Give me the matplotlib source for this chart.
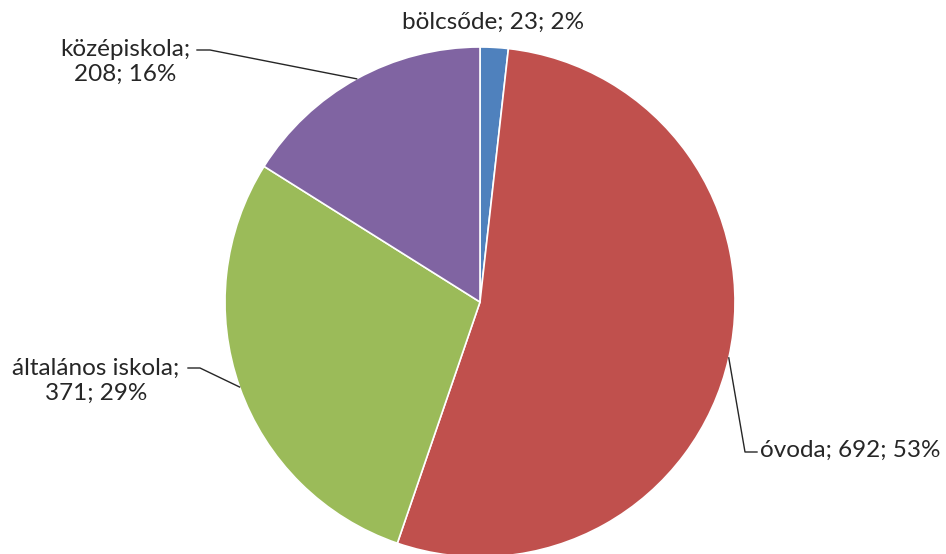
import numpy as np
import matplotlib
matplotlib.use("Agg")
import matplotlib.pyplot as plt

categories = ["bölcsőde", "óvoda", "általános iskola", "középiskola"]
values = [23, 692, 371, 208]
percents = ["2%", "53%", "29%", "16%"]
colors = ["#4F81BD", "#C0504D", "#9BBB59", "#8064A2"]

W, H = 946, 554
fig = plt.figure(figsize=(W / 100, H / 100), dpi=100)
ax = fig.add_axes([0, 0, 1, 1])

cx, cy, r = 480, H - 302, 255
wedges, _ = ax.pie(values, colors=colors, startangle=90, counterclock=False,
                   center=(cx, cy), radius=r, frame=True,
                   wedgeprops=dict(linewidth=1.2, edgecolor="white"))
ax.set_xlim(0, W)
ax.set_ylim(0, H)
ax.set_aspect("equal")
ax.axis("off")

font = dict(family=["Lato", "DejaVu Sans"], fontsize=17.5, color="#262626")

def edge_point(w):
    mid = np.deg2rad((w.theta1 + w.theta2) / 2)
    return cx + r * np.cos(mid), cy + r * np.sin(mid)

def Y(y):
    return H - y

# bölcsőde: label above the slice, no leader
ax.text(493, Y(22), f"{categories[0]}; {values[0]}; {percents[0]}",
        ha="center", va="center", **font)

# óvoda
ex, ey = edge_point(wedges[1])
ax.plot([ex, 745, 757], [ey, Y(452), Y(452)], color="#262626", lw=1)
ax.text(760, Y(450), f"{categories[1]}; {values[1]}; {percents[1]}",
        ha="left", va="center", **font)

# általános iskola
ex, ey = edge_point(wedges[2])
ax.plot([ex, 200, 188], [ey, Y(368), Y(368)], color="#262626", lw=1)
ax.text(96, Y(381), f"{categories[2]};\n{values[2]}; {percents[2]}",
        ha="center", va="center", linespacing=1.25, **font)

# középiskola
ex, ey = edge_point(wedges[3])
ax.plot([ex, 210, 197], [ey, Y(50), Y(50)], color="#262626", lw=1)
ax.text(125, Y(62), f"{categories[3]};\n{values[3]}; {percents[3]}",
        ha="center", va="center", linespacing=1.25, **font)

fig.savefig("out.png", dpi=100, facecolor="white")
